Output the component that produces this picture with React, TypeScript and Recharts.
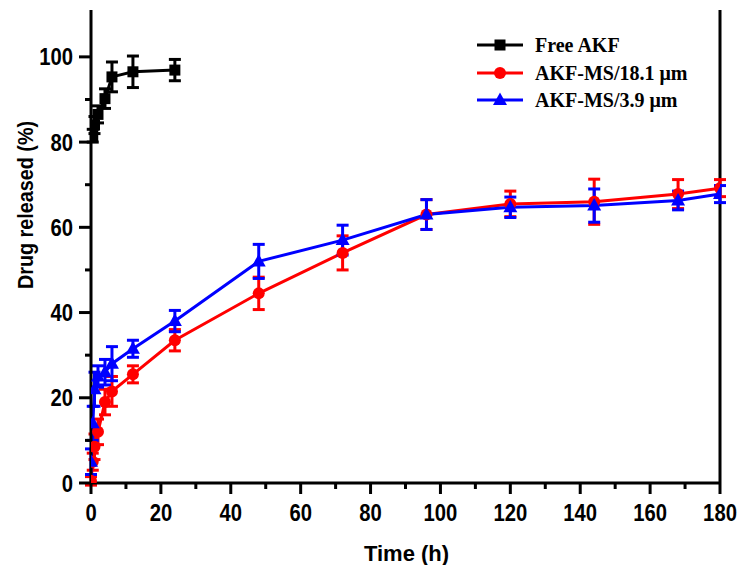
import React from 'react';
import { LineChart, Line, XAxis, YAxis, ErrorBar, Legend, ReferenceLine, Label } from 'recharts';

const freeTimes = [0.5, 1, 2, 4, 6, 12, 24];
const freeValues = [81.5, 84, 86.5, 90.2, 95.3, 96.5, 96.9];
const freeErrors = [1.5, 2, 2, 2.3, 3.5, 3.7, 2.5];

const msTimes = [0, 0.5, 1, 2, 4, 6, 12, 24, 48, 72, 96, 120, 144, 168, 180];
const ms181Values = [0.5, 5, 8.5, 12, 19, 21.5, 25.5, 33.5, 44.5, 54, 63, 65.5, 66, 67.8, 69.2];
const ms181Errors = [1, 2, 3, 3, 3, 3.5, 2, 2.5, 3.8, 4, 3.5, 3, 5.3, 3.4, 2];
const ms39Values = [5, 14, 22, 25, 26, 28, 31.5, 38, 52, 57, 63, 64.7, 65.1, 66.3, 67.8];
const ms39Errors = [3, 4, 4, 2.5, 3, 4, 2, 2.5, 4, 3.5, 3.5, 2.4, 3.9, 2.2, 2];

const seriesNames = ['Free AKF', 'AKF-MS/18.1 \u03bcm', 'AKF-MS/3.9 \u03bcm'];
const seriesColors = ['#000000', '#ff0000', '#0000ff'];

const xTicks = [0, 10, 20, 30, 40, 50, 60, 70, 80, 90, 100, 110, 120, 130, 140, 150, 160, 170, 180];
const yTicks = [0, 10, 20, 30, 40, 50, 60, 70, 80, 90, 100];

const freeData = freeTimes.map((t, i) => ({ t, v: freeValues[i], e: freeErrors[i] }));
const ms181Data = msTimes.map((t, i) => ({ t, v: ms181Values[i], e: ms181Errors[i] }));
const ms39Data = msTimes.map((t, i) => ({ t, v: ms39Values[i], e: ms39Errors[i] }));

const tickFont = "'Liberation Sans', Arial, sans-serif";
const legendFont = "'Liberation Serif', 'Times New Roman', serif";

const XTick = (props: any) => {
  const { x, y, payload } = props;
  const major = payload.value % 20 === 0;
  return (
    <g>
      <line x1={x} x2={x} y1={y} y2={y + (major ? 11 : 6)} stroke="#000" strokeWidth={3} />
      {major && (
        <text transform={`translate(${x},${y + 38}) scale(0.88,1)`} textAnchor="middle" fontFamily={tickFont} fontWeight="bold" fontSize={23} fill="#000">
          {payload.value}
        </text>
      )}
    </g>
  );
};

const YTick = (props: any) => {
  const { x, y, payload } = props;
  const major = payload.value % 20 === 0;
  return (
    <g>
      <line x1={x - (major ? 12 : 6)} x2={x} y1={y} y2={y} stroke="#000" strokeWidth={3} />
      {major && (
        <text transform={`translate(${x - 18},${y + 8.5}) scale(0.88,1)`} textAnchor="end" fontFamily={tickFont} fontWeight="bold" fontSize={23} fill="#000">
          {payload.value}
        </text>
      )}
    </g>
  );
};

const Square = (props: any) => {
  const { cx, cy, index } = props;
  if (cx == null || cy == null) return <g key={`s-${index}`} />;
  return <rect key={`s-${index}`} x={cx - 5.5} y={cy - 5.5} width={11} height={11} fill="#000" />;
};
const Circle = (props: any) => {
  const { cx, cy, index } = props;
  if (cx == null || cy == null) return <g key={`c-${index}`} />;
  return <circle key={`c-${index}`} cx={cx} cy={cy} r={6} fill="#ff0000" />;
};
const Triangle = (props: any) => {
  const { cx, cy, index } = props;
  if (cx == null || cy == null) return <g key={`t-${index}`} />;
  return <path key={`t-${index}`} d={`M${cx},${cy - 7.5} L${cx + 7},${cy + 5} L${cx - 7},${cy + 5} Z`} fill="#0000ff" />;
};

const LegendBox = () => {
  const rows = [15, 43, 70];
  return (
    <svg width={280} height={90}>
      {seriesNames.map((name, i) => {
        const y = rows[i];
        const c = seriesColors[i];
        return (
          <g key={name}>
            <line x1={9} x2={55} y1={y} y2={y} stroke={c} strokeWidth={3} />
            {i === 0 && <rect x={26.5} y={y - 5.5} width={11} height={11} fill={c} />}
            {i === 1 && <circle cx={32} cy={y} r={6} fill={c} />}
            {i === 2 && <path d={`M32,${y - 7.5} L39,${y + 5} L25,${y + 5} Z`} fill={c} />}
            <text x={67} y={y + 7} fontFamily={legendFont} fontWeight="bold" fontSize={20} fill="#000">
              {name}
            </text>
          </g>
        );
      })}
    </svg>
  );
};

export default function App() {
  return (
    <div style={{ position: 'absolute', left: 0, top: 0, width: 740, height: 565, background: '#fff' }}>
      <LineChart width={740} height={565} margin={{ top: 10, right: 20, bottom: 0, left: 0 }}>
        <XAxis
          dataKey="t"
          type="number"
          domain={[0, 180]}
          ticks={xTicks}
          interval={0}
          tick={<XTick />}
          tickLine={false}
          tickSize={0}
          tickMargin={0}
          height={82}
          axisLine={{ stroke: '#000', strokeWidth: 3 }}
          allowDataOverflow
        >
          <Label
            content={(p: any) => {
              const vb = p.viewBox;
              return (
                <text x={vb.x + vb.width / 2 + 1} y={561} textAnchor="middle" fontFamily={tickFont} fontWeight="bold" fontSize={22} fill="#000">
                  Time (h)
                </text>
              );
            }}
          />
        </XAxis>
        <YAxis
          type="number"
          domain={[0, 111]}
          ticks={yTicks}
          interval={0}
          tick={<YTick />}
          tickLine={false}
          tickSize={0}
          tickMargin={0}
          width={91}
          axisLine={{ stroke: '#000', strokeWidth: 3 }}
          allowDataOverflow
        >
          <Label
            content={() => (
              <text transform={`translate(25,205) rotate(-90) scale(0.9,1)`} textAnchor="middle" dominantBaseline="central" fontFamily={tickFont} fontWeight="bold" fontSize={22} fill="#000">
                Drug released (%)
              </text>
            )}
          />
        </YAxis>
        <ReferenceLine x={180} stroke="#000" strokeWidth={3} ifOverflow="extendDomain" />
        <Legend
          layout="horizontal"
          verticalAlign="middle"
          align="center"
          content={() => <LegendBox />}
          wrapperStyle={{ left: 468, top: 30, width: 280, height: 90 }}
        />
        <Line data={freeData} dataKey="v" name={seriesNames[0]} stroke={seriesColors[0]} strokeWidth={3} dot={Square} activeDot={false} isAnimationActive={false}>
          <ErrorBar dataKey="e" direction="y" width={6} strokeWidth={3} stroke={seriesColors[0]} />
        </Line>
        <Line data={ms181Data} dataKey="v" name={seriesNames[1]} stroke={seriesColors[1]} strokeWidth={3} dot={Circle} activeDot={false} isAnimationActive={false}>
          <ErrorBar dataKey="e" direction="y" width={6} strokeWidth={3} stroke={seriesColors[1]} />
        </Line>
        <Line data={ms39Data} dataKey="v" name={seriesNames[2]} stroke={seriesColors[2]} strokeWidth={3} dot={Triangle} activeDot={false} isAnimationActive={false}>
          <ErrorBar dataKey="e" direction="y" width={6} strokeWidth={3} stroke={seriesColors[2]} />
        </Line>
      </LineChart>
    </div>
  );
}
